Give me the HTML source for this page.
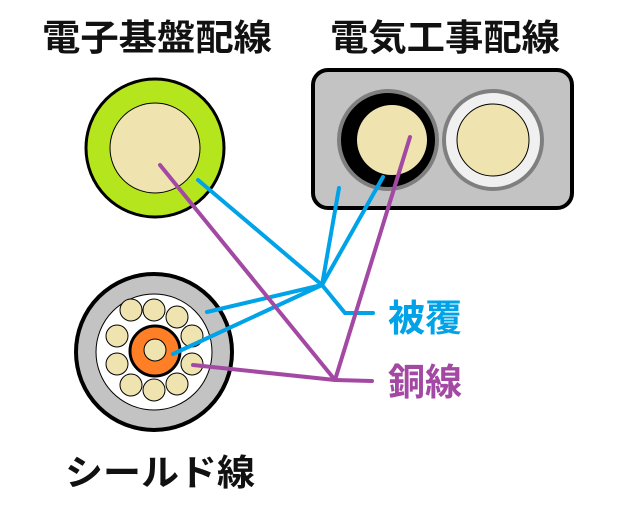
<html><body style="margin:0;background:#fff">
<svg width="636" height="524" xmlns="http://www.w3.org/2000/svg" style="display:block">
<style>text{font-family:"Liberation Sans","Noto Sans CJK JP",sans-serif;font-weight:bold}</style>
<text x="42" y="50" font-size="36" fill="#111" textLength="230" lengthAdjust="spacingAndGlyphs">電子基盤配線</text>
<text x="330" y="50" font-size="36" fill="#111" textLength="230" lengthAdjust="spacingAndGlyphs">電気工事配線</text>
<text x="65" y="485" font-size="36" fill="#111" textLength="190" lengthAdjust="spacingAndGlyphs">シールド線</text>
<!-- top-left -->
<circle cx="155" cy="148" r="69" fill="#b5e61d" stroke="#000" stroke-width="3"/>
<circle cx="155" cy="148" r="45" fill="#efe4b0" stroke="#000" stroke-width="1"/>
<!-- top-right -->
<rect x="313" y="70" width="259" height="138" rx="15" fill="#c3c3c3" stroke="#000" stroke-width="4"/>
<circle cx="388" cy="140" r="49" fill="#000" stroke="#7f7f7f" stroke-width="4"/>
<circle cx="392" cy="140" r="35" fill="#efe4b0"/>
<circle cx="493" cy="140" r="49" fill="#f0f0f0" stroke="#7f7f7f" stroke-width="4"/>
<circle cx="493" cy="140" r="36" fill="#efe4b0" stroke="#000" stroke-width="1"/>
<!-- shield -->
<circle cx="154" cy="352" r="78" fill="#c3c3c3" stroke="#000" stroke-width="4"/>
<circle cx="154" cy="352" r="58" fill="#fff" stroke="#000" stroke-width="1"/>
<g fill="#efe4b0" stroke="#000" stroke-width="1">
<circle cx="131" cy="310" r="11"/><circle cx="154" cy="310" r="11"/><circle cx="177" cy="317" r="11"/>
<circle cx="192" cy="336" r="11"/><circle cx="192" cy="364" r="11"/><circle cx="177" cy="384" r="11"/>
<circle cx="154" cy="390" r="11"/><circle cx="131" cy="385" r="11"/><circle cx="117" cy="364" r="11"/><circle cx="117" cy="336" r="11"/>
</g>
<circle cx="155" cy="351" r="25" fill="#ff7f27" stroke="#000" stroke-width="3"/>
<circle cx="155" cy="350" r="11" fill="#efe4b0" stroke="#000" stroke-width="1"/>
<!-- blue lines -->
<g stroke="#00a2e8" stroke-width="4" fill="none" stroke-linecap="round">
<line x1="198" y1="180" x2="322" y2="285"/>
<line x1="339" y1="188" x2="322" y2="285"/>
<line x1="383" y1="177" x2="322" y2="285"/>
<line x1="207" y1="312" x2="322" y2="285"/>
<line x1="173" y1="354" x2="322" y2="285"/>
<polyline points="322,285 345,313 373,313"/>
</g>
<g stroke="#a349a4" stroke-width="4" fill="none" stroke-linecap="round">
<line x1="160" y1="165" x2="335" y2="380"/>
<line x1="410" y1="137" x2="335" y2="380"/>
<line x1="193" y1="365" x2="335" y2="380"/>
<line x1="335" y1="380" x2="372" y2="381"/>
</g>
<text x="388" y="331" font-size="37" fill="#00a2e8" textLength="74" lengthAdjust="spacingAndGlyphs">被覆</text>
<text x="388" y="395" font-size="37" fill="#a349a4" textLength="74" lengthAdjust="spacingAndGlyphs">銅線</text>
</svg>
</body></html>
